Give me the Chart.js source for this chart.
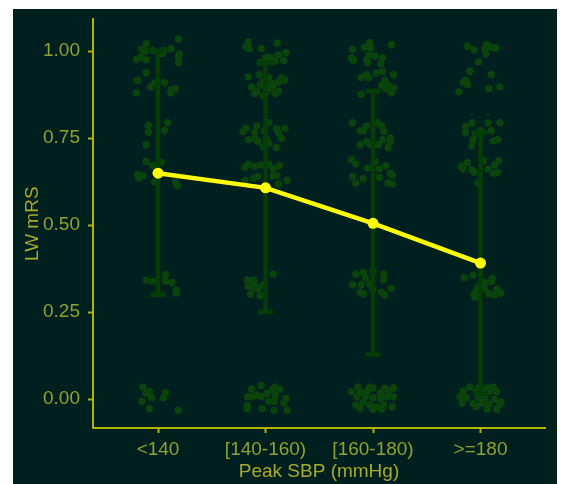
<!DOCTYPE html>
<html>
<head>
<meta charset="utf-8">
<script src="https://cdn.jsdelivr.net/npm/chart.js@4/dist/chart.umd.min.js"></script>
<style>
  html, body { margin: 0; padding: 0; background: #ffffff; }
  canvas { display: block; }
</style>
</head>
<body>
<canvas id="chart" width="561" height="484"></canvas>
<script>
// Peak systolic blood pressure groups
const categories = ['<140', '[140-160)', '[160-180)', '>=180'];
// Mean utility-weighted mRS per group, with error bar limits
const meanLW  = [0.649, 0.607, 0.505, 0.391];
const lowerLW = [0.300, 0.250, 0.128, 0.016];
const upperLW = [1.000, 0.965, 0.885, 0.766];
const yTicks = [0, 0.25, 0.5, 0.75, 1.0];

// Individual patients: [horizontal jitter offset, LW mRS value (jittered)]
const obsLt140 = [
  [0.19,1.035],[-0.11,1.021],[-0.15,1.005],[-0.12,1.000],[0.05,1.002],[0.04,0.992],[0.12,1.007],[0.20,0.992],
  [0.19,0.986],[-0.20,0.976],[-0.16,0.983],[-0.11,0.975],[0.19,0.967],[-0.05,1.002],[-0.11,0.938],[-0.19,0.916],
  [0.06,0.909],[-0.03,0.909],[-0.07,0.897],[-0.20,0.880],[0.12,0.888],[0.16,0.891],[0.12,0.880],
  [-0.09,0.786],[0.09,0.794],[-0.09,0.767],[0.06,0.772],[-0.11,0.731],[-0.11,0.683],[-0.05,0.671],[0.03,0.680],
  [-0.19,0.645],[-0.16,0.640],[-0.18,0.635],[-0.14,0.642],[-0.03,0.624],[0.16,0.624],[0.18,0.614],
  [0.07,0.358],[-0.11,0.342],[-0.05,0.339],[0.07,0.339],[0.13,0.335],[0.17,0.313],[0.17,0.305],
  [-0.14,0.035],[-0.11,0.016],[-0.08,0.021],[-0.06,0.004],[0.07,0.019],[0.05,0.004],[-0.15,-0.006],[-0.08,-0.027],[0.19,-0.032]
];
const obs140to160 = [
  [-0.16,1.026],[-0.18,1.011],[-0.15,1.007],[-0.04,1.007],[0.11,1.023],[0.19,0.995],[0.12,0.989],[0.00,0.980],
  [0.03,0.983],[0.06,0.980],[0.09,0.971],[0.17,0.973],[-0.05,0.967],[-0.16,0.926],[-0.06,0.932],[0.03,0.923],
  [-0.02,0.913],[0.06,0.907],[0.15,0.923],[0.18,0.916],[0.12,0.911],[-0.13,0.897],[-0.05,0.902],[0.00,0.897],
  [0.04,0.894],[0.07,0.900],[-0.08,0.883],[-0.10,0.878],[0.01,0.883],[0.12,0.885],[0.09,0.878],[-0.02,0.871],
  [0.03,0.794],[-0.08,0.785],[-0.18,0.778],[-0.21,0.769],[-0.10,0.766],[-0.01,0.771],[0.10,0.778],[0.18,0.778],
  [0.12,0.764],[0.15,0.749],[-0.16,0.745],[-0.10,0.749],[-0.07,0.740],[0.01,0.745],[0.03,0.735],[-0.02,0.726],
  [0.10,0.723],[-0.16,0.675],[-0.19,0.666],[-0.10,0.669],[-0.04,0.673],[0.03,0.675],[0.13,0.671],[0.07,0.662],
  [-0.11,0.635],[-0.07,0.640],[0.07,0.642],[0.10,0.642],[0.20,0.628],[-0.19,0.628],[0.12,0.618],
  [-0.17,0.342],[-0.11,0.342],[-0.16,0.324],[-0.11,0.318],[-0.07,0.318],[-0.02,0.328],[0.07,0.359],[-0.14,0.301],
  [-0.05,0.297],[-0.10,0.331],
  [-0.04,0.040],[-0.13,0.029],[0.09,0.035],[0.13,0.028],[0.06,0.026],[-0.17,0.007],[-0.13,0.007],[-0.08,0.011],
  [-0.04,0.007],[0.01,0.016],[0.09,0.011],[0.03,-0.006],[0.08,-0.006],[0.19,0.002],[0.17,-0.012],[-0.17,-0.019],
  [-0.17,-0.027],[-0.03,-0.027],[0.08,-0.032],[0.20,-0.032]
];
const obs160to180 = [
  [-0.03,1.024],[0.17,1.018],[-0.08,1.011],[-0.02,1.009],[-0.19,1.005],[-0.20,0.980],[-0.18,0.973],[-0.06,0.976],
  [-0.05,0.967],[-0.04,0.989],[0.02,0.986],[0.09,0.980],[0.07,0.964],[0.03,0.937],[0.09,0.942],[-0.11,0.924],
  [-0.06,0.932],[-0.04,0.924],[0.19,0.932],[0.11,0.916],[0.08,0.902],[0.14,0.902],[0.19,0.894],[0.17,0.880],
  [-0.11,0.876],[0.12,0.891],
  [-0.19,0.794],[-0.06,0.785],[0.04,0.794],[0.08,0.785],[-0.12,0.771],[-0.09,0.771],[0.10,0.769],[-0.06,0.740],
  [-0.03,0.732],[-0.12,0.731],[0.05,0.731],[0.09,0.745],[0.16,0.751],[0.16,0.740],[0.14,0.723],[-0.20,0.688],
  [-0.16,0.676],[0.02,0.683],[-0.05,0.664],[0.06,0.662],[0.12,0.671],[0.16,0.649],[0.18,0.643],[-0.19,0.640],
  [-0.09,0.633],[0.06,0.637],[-0.16,0.621],[0.14,0.621],[0.18,0.618],
  [-0.16,0.359],[-0.09,0.364],[0.00,0.366],[0.10,0.359],[-0.07,0.349],[0.10,0.343],[-0.19,0.328],[-0.11,0.329],
  [-0.03,0.331],[0.00,0.316],[0.17,0.318],[-0.12,0.307],[-0.09,0.302],[0.08,0.307],[0.11,0.299],
  [-0.14,0.035],[-0.03,0.035],[0.00,0.032],[0.11,0.031],[0.19,0.032],[-0.20,0.021],[-0.12,0.019],[-0.06,0.021],
  [0.07,0.019],[0.14,0.023],[-0.15,0.007],[-0.07,0.007],[0.00,0.004],[0.07,0.002],[0.13,0.007],[0.19,0.007],
  [-0.16,-0.017],[-0.09,-0.009],[-0.03,-0.017],[0.03,-0.022],[0.10,-0.017],[0.18,-0.022],[-0.12,-0.027],
  [0.00,-0.029],[0.08,-0.029]
];
const obsGe180 = [
  [-0.12,1.014],[-0.06,1.004],[0.06,1.018],[0.04,1.007],[0.10,1.011],[0.14,1.009],[0.05,0.992],[-0.02,0.969],
  [-0.10,0.942],[0.10,0.933],[-0.14,0.916],[-0.16,0.909],[-0.12,0.904],[0.08,0.892],[0.18,0.897],[-0.20,0.883],
  [-0.08,0.794],[0.07,0.794],[0.18,0.794],[-0.14,0.783],[-0.14,0.766],[0.00,0.771],[0.10,0.771],[-0.05,0.761],
  [-0.07,0.745],[-0.08,0.728],[0.12,0.742],[0.16,0.745],[0.03,0.685],[-0.12,0.680],[-0.18,0.669],[-0.16,0.662],
  [-0.08,0.659],[-0.06,0.652],[0.07,0.661],[0.13,0.673],[0.17,0.685],[0.12,0.649],[0.16,0.651],[-0.02,0.621],
  [-0.15,0.349],[-0.07,0.356],[0.11,0.347],[0.10,0.337],[0.04,0.335],[-0.02,0.321],[0.04,0.316],[-0.04,0.311],
  [0.15,0.316],[0.19,0.305],[-0.06,0.299],[0.08,0.302],[0.13,0.299],[-0.05,0.292],
  [-0.10,0.035],[-0.01,0.035],[0.06,0.032],[0.12,0.035],[-0.16,0.023],[-0.04,0.023],[0.02,0.023],[0.08,0.021],
  [0.15,0.021],[-0.19,0.007],[-0.13,0.004],[-0.02,0.004],[0.04,0.002],[0.13,0.000],[0.19,-0.008],[-0.17,-0.012],
  [-0.07,-0.012],[0.01,-0.012],[0.08,-0.015],[0.18,-0.015],[-0.04,-0.022],[0.06,-0.029],[0.15,-0.029]
];
const observations = [obsLt140, obs140to160, obs160to180, obsGe180];

const PANEL_BG = '#001f1f';
const AXIS_COLOR = '#b4b400';
const TEXT_COLOR = '#8fa232';
const TITLE_COLOR = '#a9ab2a';
const POINT_COLOR = '#0b430d';
const BAR_COLOR = '#043d06';
const CAP_HALF = 0.07;

// Jittered patient points
const jitterPoints = [];
observations.forEach((group, i) => {
  group.forEach(([dx, v]) => jitterPoints.push({ x: i + dx, y: v }));
});

// Error bars: vertical stem plus top and bottom caps, separated by gaps
const barPoints = [];
categories.forEach((c, i) => {
  barPoints.push({ x: i, y: lowerLW[i] }, { x: i, y: upperLW[i] }, { x: i, y: null });
  barPoints.push({ x: i - CAP_HALF, y: upperLW[i] }, { x: i + CAP_HALF, y: upperLW[i] }, { x: i, y: null });
  barPoints.push({ x: i - CAP_HALF, y: lowerLW[i] }, { x: i + CAP_HALF, y: lowerLW[i] }, { x: i, y: null });
});

const meanPoints = categories.map((c, i) => ({ x: i, y: meanLW[i] }));

const panelBackground = {
  id: 'panelBackground',
  beforeDraw(chart) {
    const ctx = chart.ctx;
    ctx.save();
    ctx.fillStyle = '#ffffff';
    ctx.fillRect(0, 0, chart.width, chart.height);
    ctx.fillStyle = PANEL_BG;
    ctx.fillRect(13, 9, 544, chart.height - 9);
    ctx.restore();
  }
};

const font = { family: '"Liberation Sans", Arial, sans-serif', size: 19 };

new Chart(document.getElementById('chart'), {
  type: 'scatter',
  data: {
    datasets: [
      {
        type: 'line',
        data: meanPoints,
        borderColor: '#ffff00',
        backgroundColor: '#ffff00',
        borderWidth: 4.5,
        pointRadius: 5.5,
        pointBorderWidth: 0,
        pointBackgroundColor: '#ffff00',
        tension: 0
      },
      {
        type: 'line',
        data: barPoints,
        borderColor: BAR_COLOR,
        borderWidth: 4.5,
        pointRadius: 0,
        spanGaps: false,
        borderCapStyle: 'butt',
        tension: 0
      },
      {
        type: 'scatter',
        data: jitterPoints,
        backgroundColor: POINT_COLOR,
        borderWidth: 0,
        pointRadius: 3.7
      }
    ]
  },
  options: {
    responsive: false,
    animation: false,
    devicePixelRatio: 1,
    layout: { padding: { top: 17, right: 16, left: 0, bottom: 0 } },
    plugins: { legend: { display: false }, tooltip: { enabled: false } },
    scales: {
      x: {
        type: 'linear',
        position: 'bottom',
        min: -0.605,
        max: 3.6,
        afterBuildTicks: (scale) => { scale.ticks = categories.map((c, i) => ({ value: i })); },
        afterFit: (scale) => { scale.height = 56; },
        grid: { display: true, drawOnChartArea: false, drawTicks: true, tickLength: 5, tickColor: AXIS_COLOR, tickWidth: 2 },
        border: { display: true, color: AXIS_COLOR, width: 2 },
        ticks: {
          autoSkip: false,
          maxRotation: 0,
          padding: 5,
          color: TEXT_COLOR,
          font: font,
          callback: (v) => categories[v]
        },
        title: {
          display: true,
          text: 'Peak SBP (mmHg)',
          color: TITLE_COLOR,
          font: font,
          padding: { top: 0, bottom: 1 }
        }
      },
      y: {
        type: 'linear',
        min: -0.083,
        max: 1.091,
        afterBuildTicks: (scale) => { scale.ticks = yTicks.map(v => ({ value: v })); },
        afterFit: (scale) => { scale.width = 93; },
        grid: { display: true, drawOnChartArea: false, drawTicks: true, tickLength: 5, tickColor: AXIS_COLOR, tickWidth: 2 },
        border: { display: true, color: AXIS_COLOR, width: 2 },
        ticks: {
          padding: 8,
          color: TEXT_COLOR,
          font: font,
          callback: (v) => Number(v).toFixed(2)
        },
        title: {
          display: true,
          text: 'LW mRS',
          color: TITLE_COLOR,
          font: font,
          padding: { top: 21, bottom: 0 }
        }
      }
    }
  },
  plugins: [panelBackground]
});
</script>
</body>
</html>
